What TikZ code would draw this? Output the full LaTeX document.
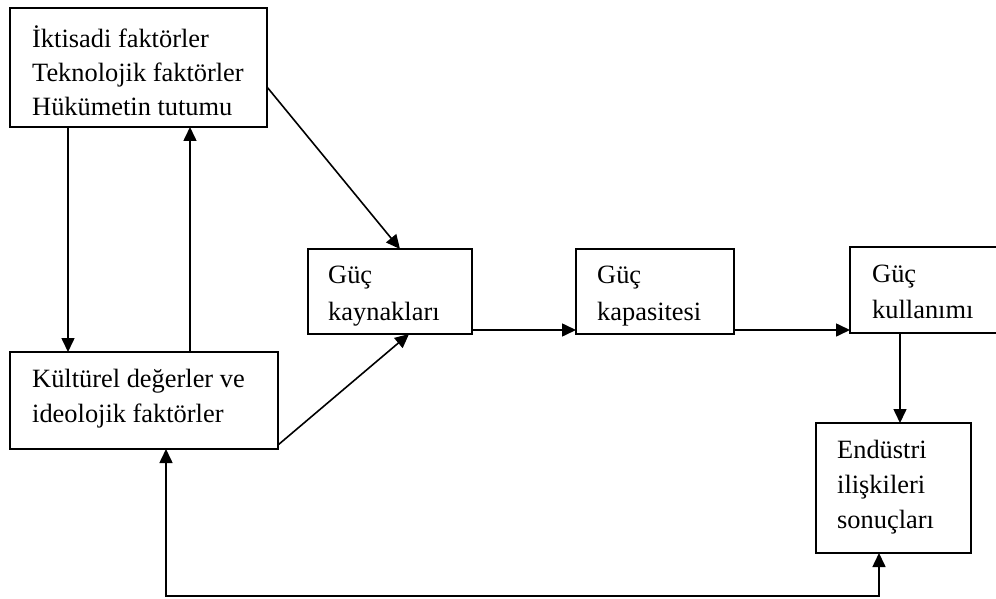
\documentclass[tikz,border=0pt]{standalone}
\usepackage{fontspec}
\setmainfont{Liberation Serif}
\usetikzlibrary{arrows.meta}
\begin{document}
\begin{tikzpicture}[x=1pt,y=-1pt,
  box/.style={draw, line width=1.7pt, rectangle, inner sep=0pt, outer sep=0pt, anchor=north west},
  txt/.style={anchor=base west, inner sep=0pt, font=\fontsize{26.4pt}{32pt}\selectfont},
  conn/.style={line width=1.6pt, -{Triangle[length=14pt,width=13pt]}},
  conn2/.style={line width=1.6pt, {Triangle[length=14pt,width=13pt]}-{Triangle[length=14pt,width=13pt]}}]
\clip (0,0) rectangle (996,599);
\fill[white] (0,0) rectangle (996,599);
% boxes
\node[box, minimum width=257pt, minimum height=119pt] (b1) at (10,8) {};
\node[box, minimum width=268pt, minimum height=97pt] (b2) at (10,352) {};
\node[box, minimum width=164pt, minimum height=85pt] (b3) at (308,249) {};
\node[box, minimum width=158pt, minimum height=85pt] (b4) at (576,249) {};
\node[box, minimum width=170pt, minimum height=86pt] (b5) at (850,247) {};
\node[box, minimum width=155pt, minimum height=130pt] (b6) at (816,423) {};
% texts
\node[txt] (t1a) at (32,47.5) {İktisadi faktörler};
\node[txt] (t1b) at (32,82) {Teknolojik faktörler};
\node[txt] (t1c) at (32,115.5) {Hükümetin tutumu};
\node[txt] (t2a) at (32,387) {Kültürel değerler ve};
\node[txt] (t2b) at (32,422) {ideolojik faktörler};
\node[txt] (t3a) at (328,283) {Güç};
\node[txt] (t3b) at (328,320) {kaynakları};
\node[txt] (t4a) at (597,283) {Güç};
\node[txt] (t4b) at (597,320) {kapasitesi};
\node[txt] (t5a) at (872,282) {Güç};
\node[txt] (t5b) at (872,318) {kullanımı};
\node[txt] (t6a) at (837,458) {Endüstri};
\node[txt] (t6b) at (837,493) {ilişkileri};
\node[txt] (t6c) at (837,528) {sonuçları};
% connectors
\draw[conn] (b1.south west -| 68,0) -- (b2.north west -| 68,0);
\draw[conn] (b2.north west -| 190,0) -- (b1.south west -| 190,0);
\draw[conn] (b1.north east |- 0,87) -- (b3.north west -| 400,0);
\draw[conn] (b2.north east |- 0,445) -- (b3.south west -| 409,0);
\draw[conn] (b3.north east |- 0,330) -- (b4.north west |- 0,330);
\draw[conn] (b4.north east |- 0,330) -- (b5.north west |- 0,330);
\draw[conn] (b5.south west -| 900,0) -- (b6.north west -| 900,0);
\coordinate (c1) at (879,596);
\coordinate (c2) at (166,596);
\draw[conn2] (b6.south west -| 879,0) -- (c1) -- (c2) -- (b2.south west -| 166,0);
\end{tikzpicture}
\end{document}
